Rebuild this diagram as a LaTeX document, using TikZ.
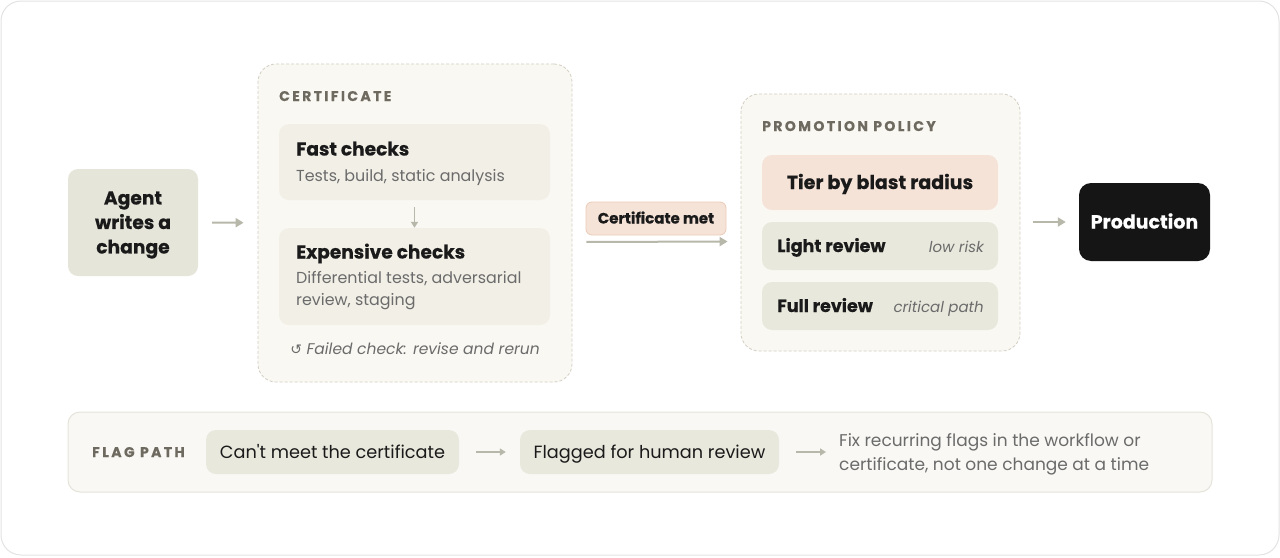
\documentclass[tikz,border=0pt]{standalone}
\usepackage{fontspec}
\setmainfont{Poppins}[BoldFont={Poppins Bold}, BoldFeatures={FakeBold=0.4}, ItalicFont={Poppins Italic}]
\newfontfamily\plainfont{Poppins}
\newfontfamily\symfont{DejaVu Sans}
\usetikzlibrary{arrows.meta,positioning,calc}

\definecolor{framegray}{HTML}{E3E3E3}
\definecolor{agentfill}{HTML}{E6E5DA}
\definecolor{groupfill}{HTML}{FAF8F3}
\definecolor{groupline}{HTML}{D3CEC2}
\definecolor{checkfill}{HTML}{F2EFE6}
\definecolor{reviewfill}{HTML}{E9E8DD}
\definecolor{peachfill}{HTML}{F6E3D8}
\definecolor{peachline}{HTML}{EBCBB9}
\definecolor{prodfill}{HTML}{151515}
\definecolor{arrowgray}{HTML}{B8B8AA}
\definecolor{labelgray}{HTML}{6E6A60}
\definecolor{descgray}{HTML}{6B6B6B}
\definecolor{inkblack}{HTML}{1A1A1A}
\definecolor{flagfill}{HTML}{F9F8F4}
\definecolor{flagline}{HTML}{E5E3DA}

\begin{document}
\begin{tikzpicture}[x=1pt,y=-1pt,
    box/.style={rounded corners=10pt, inner sep=0pt},
    group/.style={box, rounded corners=18pt, fill=groupfill, draw=groupline,
      line width=0.8pt, dash pattern=on 3pt off 2pt},
    grouplabel/.style={inner sep=0pt, anchor=base west, text=labelgray,
      font=\fontsize{14}{16}\selectfont\bfseries\addfontfeatures{LetterSpace=17}},
    title/.style={inner sep=0pt, anchor=base west, text=inkblack,
      font=\fontsize{18.6}{22}\selectfont\bfseries},
    desc/.style={inner sep=0pt, anchor=base west, text=descgray,
      font=\fontsize{15.9}{22}\selectfont},
    arr/.style={draw=arrowgray, line width=2pt, -{Triangle[length=8pt,width=9pt]}}]
  \useasboundingbox (0,0) rectangle (1280,557);
  \draw[framegray, fill=white, line width=1pt, rounded corners=20pt] (1,1) rectangle (1279,555);

  % agent
  \node[box, fill=agentfill, minimum width=130pt, minimum height=107pt] (agent) at (133,222.5) {};
  \node[align=center, text=inkblack, inner sep=0pt,
    font=\fontsize{18.7}{24.5}\selectfont\bfseries] (agenttext) at (133,225) {Agent\\writes a\\change};

  % certificate group
  \node[group, minimum width=314pt, minimum height=318pt] (cert) at (415,223) {};
  \node[grouplabel] (certlabel) at (279,101) {CERTIFICATE};
  \node[box, fill=checkfill, minimum width=271pt, minimum height=76pt] (fast) at (414.5,162) {};
  \node[title] (fasttitle) at (296,155.5) {Fast checks};
  \node[desc] (fastdesc) at (296,181.5) {Tests, build, static analysis};
  \node[box, fill=checkfill, minimum width=271pt, minimum height=97pt] (expensive) at (414.5,276.5) {};
  \node[title] (exptitle) at (296,258.5) {Expensive checks};
  \node[desc] (expdesc1) at (296,283.5) {Differential tests, adversarial};
  \node[desc] (expdesc2) at (296,305.5) {review, staging};
  \node[inner sep=0pt, anchor=base, text=descgray, font=\fontsize{15.5}{20}\selectfont\itshape]
    (failed) at (415,354.5) {{\symfont\fontsize{14}{14}\selectfont ↺} Failed check: revise and rerun};
  \draw[arr, line width=1.5pt, -{Triangle[length=6pt,width=7pt]}, shorten <=7pt] (fast) -- (expensive);

  % promotion policy group
  \node[group, minimum width=279pt, minimum height=257pt] (promo) at (880.5,222.5) {};
  \node[grouplabel] (promolabel) at (762,131) {PROMOTION POLICY};
  \node[box, fill=peachfill, minimum width=236pt, minimum height=55pt] (tier) at (880,182.5) {};
  \node[inner sep=0pt, anchor=base, text=inkblack, font=\fontsize{19}{22}\selectfont\bfseries] (tiertext) at (880,189) {Tier by blast radius};
  \node[box, fill=reviewfill, minimum width=236pt, minimum height=48pt] (light) at (880,246) {};
  \node[title, font=\fontsize{17.5}{20}\selectfont\bfseries] (lighttitle) at (777,252) {Light review};
  \node[desc, anchor=base east, font=\fontsize{15}{20}\selectfont\itshape] (lightnote) at (984,252) {low risk};
  \node[box, fill=reviewfill, minimum width=236pt, minimum height=48pt] (full) at (880,306) {};
  \node[title, font=\fontsize{17.5}{20}\selectfont\bfseries] (fulltitle) at (777,312) {Full review};
  \node[desc, anchor=base east, font=\fontsize{15}{20}\selectfont\itshape] (fullnote) at (984,312) {critical path};

  % certificate met
  \node[box, rounded corners=6pt, fill=peachfill, draw=peachline, line width=0.8pt,
    minimum width=140pt, minimum height=33pt] (met) at (656,218.5) {};
  \node[inner sep=0pt, anchor=base, text=inkblack, font=\fontsize{15}{17}\selectfont\bfseries] (mettext) at (656,223.5) {Certificate met};
  \draw[arr, shorten <=14pt, shorten >=13pt] ([yshift=-19pt]cert.east) -- ([yshift=-19pt]promo.west);

  % production
  \node[box, rounded corners=12pt, fill=prodfill, minimum width=131pt, minimum height=78pt] (prod) at (1144.5,222) {};
  \node[inner sep=0pt, anchor=base, text=white, font=\fontsize{19}{22}\selectfont\bfseries] (prodtext) at (1144.5,228.5) {Production};

  \draw[arr, shorten <=14pt, shorten >=14pt] (agent) -- (cert);
  \draw[arr, shorten <=13pt, shorten >=13pt] (promo.east |- prod) -- (prod);

  % flag path
  \node[box, rounded corners=12pt, fill=flagfill, draw=flagline, line width=1pt,
    minimum width=1144pt, minimum height=80pt] (flagbar) at (640,452) {};
  \node[grouplabel] (flaglabel) at (92,457) {FLAG PATH};
  \node[box, fill=reviewfill, minimum width=253pt, minimum height=44pt] (cantmeet) at (332.5,452) {};
  \node[inner sep=0pt, anchor=base, text=inkblack, font=\plainfont\fontsize{17.7}{20}\selectfont] (cantmeettext) at (332.5,458) {Can't meet the certificate};
  \node[box, fill=reviewfill, minimum width=259pt, minimum height=44pt] (flagged) at (649.5,452) {};
  \node[inner sep=0pt, anchor=base, text=inkblack, font=\fontsize{17.7}{20}\selectfont] (flaggedtext) at (649.5,458) {Flagged for human review};
  \coordinate (fixstart) at (839,452);
  \node[desc, font=\fontsize{17}{24}\selectfont] (fix1) at (839,446) {Fix recurring flags in the workflow or};
  \node[desc, font=\fontsize{17}{24}\selectfont] (fix2) at (839,470) {certificate, not one change at a time};
  \draw[arr, line width=1.5pt, -{Triangle[length=6pt,width=7pt]}, shorten <=17pt, shorten >=14pt] (cantmeet) -- (flagged);
  \draw[arr, line width=1.5pt, -{Triangle[length=6pt,width=7pt]}, shorten <=17pt, shorten >=13pt] (flagged) -- (fixstart);
\end{tikzpicture}
\end{document}
